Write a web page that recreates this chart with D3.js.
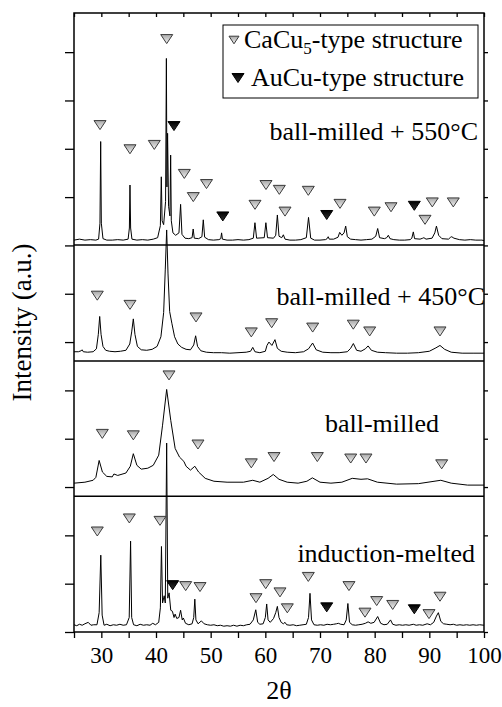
<!DOCTYPE html>
<html>
<head>
<meta charset="utf-8">
<script src="https://cdn.jsdelivr.net/npm/d3@7"></script>
<style>
    body { margin: 0; background: #fff; }
    svg text { font-family: "Liberation Serif", "Times New Roman", serif; fill: #000; }
    .trace { fill: none; stroke: #000; stroke-width: 1; stroke-linejoin: round; }
    .axis path, .axis line { stroke: #000; stroke-width: 1.3; }
    .axis text { font-size: 23px; font-family: "Liberation Serif", serif; }
</style>
</head>
<body>
<div id="chart"></div>
<script>
// 2-theta range and bottom tick labels
var xDomain = [25, 100];
var xTicks = [25, 30, 35, 40, 45, 50, 55, 60, 65, 70, 75, 80, 85, 90, 95, 100];
var yTicks = [0, 1, 2, 3, 4, 5, 6, 7, 8, 9, 10, 11, 12];

var panelNames = ["ball-milled + 550°C", "ball-milled + 450°C", "ball-milled", "induction-melted"];
// stacking offset of each panel (a.u.)
var panelOffsets = [8.01, 5.61, 2.81, 0];

// traces: [2theta, intensity above panel floor]
var milled550 = [[25,0.1],[26,0.12],[27,0.1],[28,0.11],[29,0.1],[29.5,0.12],[29.75,0.45],[29.88,2.14],[30.0,0.45],[30.3,0.13],[31,0.1],[32,0.1],[33,0.11],[34,0.1],[34.9,0.12],[35.13,0.35],[35.24,1.24],[35.36,0.35],[35.6,0.12],[36.5,0.1],[37.5,0.11],[38.5,0.1],[39.5,0.12],[40.3,0.15],[40.8,0.4],[40.97,1.41],[41.12,0.5],[41.4,0.42],[41.75,0.9],[41.9,3.86],[42.0,1.2],[42.12,2.31],[42.3,0.8],[42.55,0.6],[42.68,1.86],[42.8,0.5],[43.1,0.25],[43.6,0.2],[44.2,0.25],[44.5,0.84],[44.75,0.22],[45.3,0.14],[46.0,0.13],[46.6,0.15],[46.8,0.33],[47.0,0.14],[47.8,0.13],[48.4,0.17],[48.65,0.52],[48.9,0.16],[49.6,0.11],[50.5,0.1],[51.5,0.11],[51.85,0.13],[52.0,0.25],[52.15,0.12],[53,0.1],[54,0.1],[55,0.11],[56,0.1],[57,0.11],[57.8,0.14],[58.1,0.46],[58.4,0.14],[59.8,0.15],[60.1,0.46],[60.4,0.15],[61.5,0.14],[61.9,0.2],[62.2,0.62],[62.5,0.18],[63.0,0.15],[63.3,0.21],[63.6,0.12],[64.5,0.1],[65.5,0.1],[66.5,0.11],[67.5,0.15],[67.9,0.57],[68.3,0.14],[69,0.1],[70,0.1],[71,0.11],[71.3,0.13],[71.5,0.17],[71.7,0.12],[72.5,0.12],[73.3,0.16],[73.6,0.26],[74.0,0.2],[74.4,0.25],[74.7,0.39],[75.0,0.17],[75.6,0.12],[76.5,0.11],[77.5,0.1],[78.5,0.11],[79.5,0.12],[80.2,0.18],[80.55,0.34],[80.9,0.15],[81.8,0.13],[82.2,0.15],[82.5,0.2],[82.8,0.13],[83.5,0.11],[84.5,0.1],[85.5,0.1],[86.5,0.11],[86.8,0.14],[87.07,0.27],[87.3,0.13],[88.3,0.12],[88.8,0.14],[89.0,0.15],[89.4,0.12],[90.5,0.14],[91.0,0.25],[91.3,0.39],[91.7,0.2],[92.3,0.13],[93.5,0.12],[93.9,0.16],[94.1,0.17],[94.5,0.14],[95.5,0.11],[96.5,0.1],[97.5,0.11],[98.5,0.1],[99.3,0.1],[99.6,0.1],[100,0.09]];

var milled450 = [[25,0.19],[25.8,0.19],[26.3,0.21],[26.5,0.23],[26.7,0.19],[27.5,0.18],[28.5,0.19],[29.1,0.25],[29.45,0.55],[29.7,0.92],[29.95,0.55],[30.3,0.3],[30.8,0.22],[31.5,0.2],[32.5,0.19],[33.5,0.2],[34.5,0.22],[35.2,0.35],[35.55,0.6],[35.85,0.87],[36.15,0.55],[36.6,0.3],[37.3,0.23],[38.3,0.22],[39.3,0.24],[40.2,0.3],[40.9,0.5],[41.4,1.0],[41.7,1.9],[41.95,2.71],[42.2,1.8],[42.5,1.02],[42.9,0.78],[43.4,0.5],[44,0.35],[44.7,0.28],[45.5,0.24],[46.3,0.23],[46.9,0.33],[47.25,0.52],[47.6,0.3],[48.2,0.21],[49.2,0.18],[50.5,0.17],[52,0.17],[53.5,0.16],[55,0.17],[56.5,0.18],[57.3,0.2],[57.7,0.28],[58.1,0.19],[59,0.17],[60,0.2],[60.3,0.32],[60.66,0.39],[61.2,0.32],[61.76,0.44],[62.2,0.26],[62.9,0.2],[64,0.18],[65.5,0.17],[67,0.19],[67.9,0.25],[68.65,0.37],[69.3,0.23],[70.5,0.18],[72,0.17],[73.5,0.17],[75,0.19],[75.6,0.26],[76.1,0.36],[76.7,0.22],[77.5,0.2],[78.3,0.25],[78.8,0.31],[79.4,0.22],[80.5,0.18],[82,0.17],[84,0.16],[86,0.16],[88,0.17],[90,0.2],[91.2,0.27],[91.95,0.32],[92.8,0.24],[94,0.18],[96,0.16],[98,0.16],[100,0.16]];

var milled = [[25,0.27],[27,0.29],[28.5,0.33],[29.0,0.39],[29.6,0.74],[30.2,0.5],[31,0.41],[32,0.4],[32.3,0.46],[33,0.43],[34.5,0.48],[35.3,0.62],[35.85,0.88],[36.5,0.64],[37.3,0.56],[38.5,0.58],[39.5,0.64],[40.5,0.85],[41.2,1.47],[41.95,2.21],[42.7,1.57],[43.5,0.99],[44.3,0.81],[45.1,0.72],[45.5,0.62],[46.3,0.54],[47.1,0.62],[47.8,0.5],[49,0.37],[50.6,0.31],[53,0.29],[56,0.29],[57.7,0.33],[59,0.29],[60.5,0.37],[61.45,0.45],[62.5,0.35],[64,0.29],[66,0.27],[67.6,0.31],[68.6,0.38],[70,0.29],[72,0.27],[74,0.29],[75.9,0.37],[77.5,0.35],[78.7,0.36],[80.5,0.29],[84,0.25],[88,0.26],[92.1,0.33],[94,0.27],[97,0.23],[100,0.23]];

var melted = [[25,0.15],[25.5,0.13],[26,0.16],[26.5,0.14],[27,0.17],[27.6,0.2],[28.1,0.14],[28.6,0.15],[29.2,0.15],[29.6,0.4],[29.9,1.59],[30.15,0.35],[30.5,0.14],[31,0.16],[31.6,0.13],[32.2,0.15],[32.8,0.14],[33.4,0.16],[34,0.14],[34.6,0.15],[35.1,0.3],[35.35,1.88],[35.55,0.3],[35.9,0.15],[36.5,0.13],[37.1,0.16],[37.7,0.14],[38.3,0.15],[38.9,0.14],[39.4,0.18],[39.9,0.15],[40.5,0.2],[40.8,0.5],[41.0,1.77],[41.2,0.6],[41.5,0.75],[41.7,0.6],[41.95,3.91],[42.15,0.7],[42.4,0.81],[42.7,0.45],[43.0,0.43],[43.3,0.3],[43.5,0.37],[43.8,0.28],[44.2,0.3],[44.5,0.45],[44.8,0.25],[45.0,0.29],[45.4,0.18],[46,0.15],[46.6,0.17],[46.9,0.3],[47.1,0.68],[47.3,0.25],[47.7,0.17],[48.3,0.23],[48.8,0.17],[49.4,0.15],[50,0.14],[50.6,0.15],[51.2,0.13],[51.8,0.14],[52.4,0.12],[53,0.13],[53.6,0.12],[54.2,0.14],[54.8,0.12],[55.4,0.14],[56,0.13],[56.6,0.15],[57.2,0.16],[57.8,0.25],[58.25,0.46],[58.6,0.2],[59,0.16],[59.6,0.17],[60.0,0.3],[60.25,0.58],[60.5,0.25],[60.9,0.2],[61.5,0.28],[61.9,0.4],[62.2,0.53],[62.5,0.3],[62.9,0.2],[63.3,0.17],[63.6,0.2],[63.9,0.15],[64.5,0.14],[65.1,0.15],[65.7,0.13],[66.3,0.14],[66.9,0.15],[67.5,0.16],[67.9,0.3],[68.17,0.8],[68.45,0.25],[68.9,0.15],[69.5,0.14],[70.1,0.15],[70.7,0.14],[71.3,0.16],[71.9,0.15],[72.5,0.16],[73,0.17],[73.35,0.18],[73.8,0.16],[74.4,0.15],[74.8,0.25],[75.1,0.59],[75.4,0.2],[75.9,0.15],[76.5,0.14],[77.1,0.15],[77.7,0.16],[78.3,0.18],[78.8,0.21],[79.3,0.18],[79.9,0.2],[80.55,0.32],[81.1,0.18],[81.7,0.15],[82.3,0.16],[82.9,0.25],[83.3,0.16],[83.9,0.14],[84.5,0.15],[85.1,0.14],[85.7,0.15],[86.3,0.14],[87.07,0.16],[87.6,0.14],[88.2,0.15],[88.8,0.14],[89.6,0.17],[90.2,0.15],[90.8,0.2],[91.3,0.33],[91.65,0.4],[92.1,0.22],[92.6,0.17],[93.2,0.16],[93.8,0.15],[94.4,0.16],[95,0.14],[95.6,0.15],[96.2,0.14],[96.8,0.15],[97.4,0.14],[98,0.15],[98.6,0.14],[99.2,0.15],[100,0.14]];

// reflection markers: [2theta, height above panel floor, type] c = CaCu5, a = AuCu
var marks550 = [[29.76,2.48,"c"],[35.24,1.98,"c"],[39.69,2.07,"c"],[41.96,4.26,"c"],[43.29,2.46,"a"],[45.18,1.47,"c"],[46.82,0.99,"c"],[49.24,1.26,"c"],[52.22,0.59,"a"],[58.11,0.83,"c"],[60.12,1.24,"c"],[62.56,1.14,"c"],[63.6,0.69,"c"],[67.86,1.12,"c"],[71.23,0.62,"a"],[73.66,0.85,"c"],[79.93,0.69,"c"],[82.99,0.78,"c"],[87.25,0.81,"a"],[89.21,0.52,"c"],[90.54,0.88,"c"],[94.38,0.88,"c"]];
var marks450 = [[29.26,1.35,"c"],[35.24,1.16,"c"],[47.32,0.9,"c"],[57.43,0.59,"c"],[61.16,0.78,"c"],[68.66,0.69,"c"],[76.09,0.75,"c"],[79.09,0.61,"c"],[91.95,0.61,"c"]];
var marksMilled = [[30.18,1.29,"c"],[35.85,1.26,"c"],[42.38,2.5,"c"],[47.68,1.07,"c"],[57.43,0.68,"c"],[61.59,0.81,"c"],[69.51,0.81,"c"],[75.62,0.78,"c"],[78.41,0.78,"c"],[92.26,0.66,"c"]];
var marksMelted = [[29.26,2.08,"c"],[35.12,2.35,"c"],[40.73,2.3,"c"],[43.05,0.97,"a"],[45.43,0.95,"c"],[48.05,0.93,"c"],[58.29,0.7,"c"],[60.07,0.99,"c"],[62.68,0.82,"c"],[64.02,0.49,"c"],[67.86,1.14,"c"],[71.23,0.51,"a"],[75.3,0.95,"c"],[78.23,0.4,"c"],[80.37,0.64,"c"],[83.3,0.56,"c"],[87.25,0.47,"a"],[89.94,0.37,"c"],[91.95,0.73,"c"]];

var traces = [milled550, milled450, milled, melted];
var markSets = [marks550, marks450, marksMilled, marksMelted];

var serif = "'Liberation Serif', 'Times New Roman', serif";

function drawChart() {
    var w = 502;
    var h = 707;
    var left = 74, right = 484, top = 13, bottom = 632;

    var xScale = d3.scaleLinear().domain(xDomain).range([left, right]);
    var yScale = d3.scaleLinear().domain([0, 12.81]).range([bottom, top]);

    var svg = d3.select("#chart").append("svg").attr("width", w).attr("height", h)
        .attr("font-family", serif);

    var defs = svg.append("defs");
    var g1 = defs.append("linearGradient").attr("id", "openFill").attr("x1", 0).attr("y1", 0).attr("x2", 0).attr("y2", 1);
    g1.append("stop").attr("offset", "0%").attr("stop-color", "#a8a8a8");
    g1.append("stop").attr("offset", "100%").attr("stop-color", "#f4f4f4");
    var g2 = defs.append("linearGradient").attr("id", "solidFill").attr("x1", 0).attr("y1", 0).attr("x2", 0).attr("y2", 1);
    g2.append("stop").attr("offset", "0%").attr("stop-color", "#000");
    g2.append("stop").attr("offset", "100%").attr("stop-color", "#333");

    // axes
    svg.append("g").attr("class", "axis")
        .attr("transform", "translate(0," + bottom + ")")
        .call(d3.axisBottom(xScale).tickValues(xTicks).tickSize(6).tickSizeOuter(0)
            .tickFormat(function(d) { return d % 10 === 0 ? d : ""; }))
        .call(function(g) { g.select(".domain").remove(); })
        .attr("font-family", serif)
        .selectAll("text").attr("dy", "0.95em");

    svg.append("g").attr("class", "axis")
        .attr("transform", "translate(0," + top + ")")
        .call(d3.axisTop(xScale).tickValues(xTicks).tickSize(-4).tickFormat(""))
        .call(function(g) { g.select(".domain").remove(); });

    svg.append("g").attr("class", "axis")
        .attr("transform", "translate(" + left + ",0)")
        .call(d3.axisLeft(yScale).tickValues(yTicks).tickSize(9).tickFormat(""))
        .call(function(g) { g.select(".domain").remove(); });

    svg.append("g").attr("class", "axis")
        .attr("transform", "translate(" + right + ",0)")
        .call(d3.axisRight(yScale).tickValues(yTicks).tickSize(4).tickFormat(""))
        .call(function(g) { g.select(".domain").remove(); });

    // frame
    svg.append("rect")
        .attr("x", left).attr("y", top)
        .attr("width", right - left).attr("height", bottom - top)
        .attr("fill", "none").attr("stroke", "#000").attr("stroke-width", 1.5);

    // panel separators
    panelOffsets.slice(0, 3).forEach(function(o) {
        svg.append("line")
            .attr("x1", left).attr("x2", right)
            .attr("y1", yScale(o)).attr("y2", yScale(o))
            .attr("stroke", "#000").attr("stroke-width", 1.5);
    });

    // traces
    traces.forEach(function(data, i) {
        var off = panelOffsets[i];
        var line = d3.line()
            .x(function(d) { return xScale(d[0]); })
            .y(function(d) { return yScale(d[1] + off); });
        svg.append("path").datum(data)
            .attr("class", "trace")
            .attr("stroke-width", i === 3 ? 1.5 : 1)
            .attr("d", line);
    });

    // markers
    var tri = "M-6,-4.5L6,-4.5L0,4.5Z";
    markSets.forEach(function(set, i) {
        var off = panelOffsets[i];
        svg.append("g").selectAll("path").data(set).enter().append("path")
            .attr("d", tri)
            .attr("transform", function(d) {
                return "translate(" + xScale(d[0]) + "," + yScale(d[1] + off) + ")";
            })
            .attr("fill", function(d) { return d[2] === "a" ? "url(#solidFill)" : "url(#openFill)"; })
            .attr("stroke", function(d) { return d[2] === "a" ? "#000" : "#3a3a3a"; })
            .attr("stroke-width", 1);
    });

    // panel labels
    var labelPos = [[478, 140], [485, 305], [439, 432], [475, 562]];
    panelNames.forEach(function(name, i) {
        svg.append("text")
            .attr("x", labelPos[i][0]).attr("y", labelPos[i][1])
            .attr("text-anchor", "end")
            .attr("font-family", serif)
            .attr("font-size", 26)
            .text(name);
    });

    // legend
    var lg = svg.append("g");
    lg.append("rect").attr("x", 223).attr("y", 25).attr("width", 255).attr("height", 73)
        .attr("fill", "#fff").attr("stroke", "#000").attr("stroke-width", 1);
    lg.append("path").attr("d", "M-5,-3.8L5,-3.8L0,3.8Z").attr("transform", "translate(234,40)")
        .attr("fill", "url(#openFill)").attr("stroke", "#3a3a3a");
    var t1 = lg.append("text").attr("x", 244).attr("y", 48)
        .attr("font-family", serif).attr("font-size", 26);
    t1.append("tspan").text("CaCu");
    t1.append("tspan").attr("font-size", 17).attr("dy", 6).text("5");
    t1.append("tspan").attr("dy", -6).text("-type structure");
    lg.append("path").attr("d", tri).attr("transform", "translate(238,78)")
        .attr("fill", "url(#solidFill)").attr("stroke", "#000");
    lg.append("text").attr("x", 251).attr("y", 86)
        .attr("font-family", serif).attr("font-size", 26).text("AuCu-type structure");

    // axis titles
    svg.append("text")
        .attr("x", (left + right) / 2).attr("y", 699)
        .attr("text-anchor", "middle")
        .attr("font-family", serif).attr("font-size", 26)
        .text("2θ");
    svg.append("text")
        .attr("transform", "translate(31," + ((top + bottom) / 2) + ") rotate(-90)")
        .attr("text-anchor", "middle")
        .attr("font-family", serif).attr("font-size", 27)
        .text("Intensity (a.u.)");
}

window.onload = drawChart;
</script>
</body>
</html>
